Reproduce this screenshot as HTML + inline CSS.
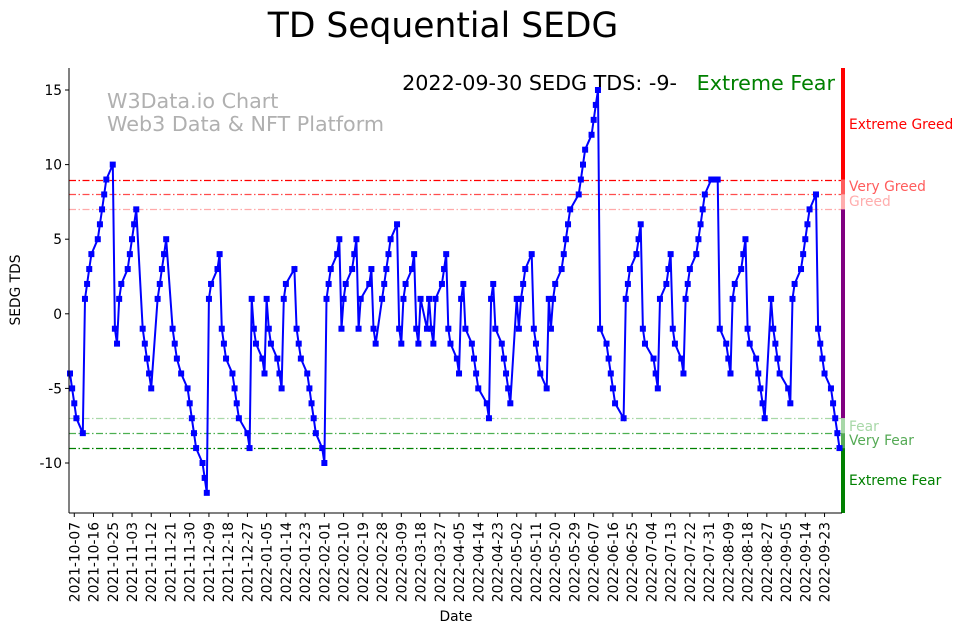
<!DOCTYPE html>
<html><head><meta charset="utf-8"><style>
html,body{margin:0;padding:0;background:#fff}
svg{display:block;font-family:"DejaVu Sans","Liberation Sans",sans-serif}
</style></head><body>
<svg id="chart" width="962" height="633" viewBox="0 0 962 633">
<text x="443" y="37" font-size="34.5" text-anchor="middle" fill="#000">TD Sequential SEDG</text>
<text x="107" y="108" font-size="20.7" fill="#b0b0b0">W3Data.io Chart</text>
<text x="107" y="131" font-size="20.7" fill="#b0b0b0">Web3 Data &amp; NFT Platform</text>
<text x="677" y="90" font-size="20.7" text-anchor="end" fill="#000">2022-09-30 SEDG TDS: -9-</text>
<text x="835" y="90" font-size="20.7" text-anchor="end" fill="#008000">Extreme Fear</text>
<g id="zones"></g>
<g id="plot"></g>
<g id="axes"></g>
<text transform="translate(20,290) rotate(-90)" font-size="13.8" text-anchor="middle">SEDG TDS</text>
<text x="456" y="621" font-size="13.8" text-anchor="middle">Date</text>
</svg>
<script>
const values = [-4,-5,-6,-7,-8,1,2,3,4,5,6,7,8,9,10,-1,-2,1,2,3,4,5,6,7,-1,-2,-3,-4,-5,1,2,3,4,5,-1,-2,-3,-4,-5,-6,-7,-8,-9,-10,
-11,-12,1,2,3,4,-1,-2,-3,-4,-5,-6,-7,-8,-9,1,-1,-2,-3,-4,1,-1,-2,-3,-4,-5,1,2,3,-1,-2,-3,-4,-5,-6,-7,-8,-9,-10,
1,2,3,4,5,-1,1,2,3,4,5,-1,1,2,3,-1,-2,1,2,3,4,5,6,-1,-2,1,2,3,4,-1,-2,1,-1,1,-1,-2,1,2,3,4,-1,-2,-3,-4,
1,2,-1,-2,-3,-4,-5,-6,-7,1,2,-1,-2,-3,-4,-5,-6,1,-1,1,2,3,4,-1,-2,-3,-4,-5,1,-1,1,2,3,4,5,6,7,8,9,10,11,12,13,
14,15,-1,-2,-3,-4,-5,-6,-7,1,2,3,4,5,6,-1,-2,-3,-4,-5,1,2,3,4,-1,-2,-3,-4,1,2,3,4,5,6,7,8,9,9,9,9,
-1,-2,-3,-4,1,2,3,4,5,-1,-2,-3,-4,-5,-6,-7,1,-1,-2,-3,-4,-5,-6,1,2,3,4,5,6,7,8,-1,-2,-3,-4,-5,-6,-7,-8,-9];
const yTicks = [15,10,5,0,-5,-10];
const lastDate = "2022-09-30";
const holidays = ["2021-11-25","2021-12-24","2022-01-17","2022-02-21","2022-04-15","2022-05-30","2022-06-20","2022-07-04","2022-09-05"];
const xTickLabels = ["2021-10-07","2021-10-16","2021-10-25","2021-11-03","2021-11-12","2021-11-21","2021-11-30","2021-12-09","2021-12-18","2021-12-27","2022-01-05","2022-01-14","2022-01-23","2022-02-01","2022-02-10","2022-02-19","2022-02-28","2022-03-09","2022-03-18","2022-03-27","2022-04-05","2022-04-14","2022-04-23","2022-05-02","2022-05-11","2022-05-20","2022-05-29","2022-06-07","2022-06-16","2022-06-25","2022-07-04","2022-07-13","2022-07-22","2022-07-31","2022-08-09","2022-08-18","2022-08-27","2022-09-05","2022-09-14","2022-09-23"];
const levels = [9,8,7,-7,-8,-9];
const levelNames = ["Extreme Greed","Very Greed","Greed","Fear","Very Fear","Extreme Fear"];

const NS="http://www.w3.org/2000/svg";
const DAY=86400000;
function toUTC(s){const p=s.split("-");return Date.UTC(+p[0],+p[1]-1,+p[2]);}
function fmt(t){return new Date(t).toISOString().slice(0,10);}
const dates=[];
let t=toUTC(lastDate);
while(dates.length<values.length){
  const d=new Date(t).getUTCDay();
  if(d!==0&&d!==6&&holidays.indexOf(fmt(t))<0) dates.unshift(t);
  t-=DAY;
}
const L=69,R=842,T=68,B=513;
const x0=dates[0],x1=dates[dates.length-1];
function xs(tt){return 70+(tt-x0)/(x1-x0)*(839.5-70);}
function ys(v){return 313.8-v*14.92;}
function mk(tag,attrs,parent){const e=document.createElementNS(NS,tag);for(const k in attrs)e.setAttribute(k,attrs[k]);parent.appendChild(e);return e;}

const zones=document.getElementById('zones');
const lineColors=["#ff0000","#ff4d4d","#ffaaaa","#a8d8a8","#4caf50","#008000"];
levels.forEach((lv,i)=>{
  const yy=Math.round(ys(lv))+0.5;
  const l=mk('line',{x1:L,x2:R,y1:yy,y2:yy,stroke:lineColors[i],'stroke-width':1.2,'stroke-dasharray':'7,2.5,1.5,2.5'},zones);
  
  
});
const segs=[[T,ys(9),"#ff0000"],[ys(9),ys(8),"#ff5c5c"],[ys(8),ys(7),"#ffadad"],[ys(7),ys(-7),"#800080"],[ys(-7),ys(-8),"#a8d8a8"],[ys(-8),ys(-9),"#55aa55"],[ys(-9),B,"#008000"]];
segs.forEach((s,i)=>{
  const r=mk('rect',{x:841,y:s[0],width:4,height:s[1]-s[0],fill:s[2]},zones);
  
  
});
const labelY=[129,191,206,431,445,485];
const labelCol=["#ff0000","#ff5c5c","#ffadad","#a8d8a8","#55aa55","#008000"];
levelNames.forEach((n,i)=>{
  const tx=mk('text',{x:849,y:labelY[i],'font-size':13.8,fill:labelCol[i]},zones);
  tx.textContent=n;
  
  
});

const plot=document.getElementById('plot');
const pts=values.map((v,i)=>xs(dates[i]).toFixed(1)+","+ys(v).toFixed(1)).join(" ");
const pl=mk('polyline',{points:pts,fill:'none',stroke:'#0000ff','stroke-width':2},plot);


values.forEach((v,i)=>{
  const r=mk('rect',{x:xs(dates[i])-3,y:ys(v)-3,width:6,height:6,fill:'#0000ff'},plot);
  
  
});

const axes=document.getElementById('axes');
const ya=mk('line',{x1:L,x2:L,y1:T,y2:B,stroke:'#000','stroke-width':1},axes);


const xa=mk('line',{x1:L,x2:R,y1:B,y2:B,stroke:'#000','stroke-width':1},axes);


yTicks.forEach(v=>{
  const y=ys(v);
  mk('line',{x1:L-4,x2:L,y1:y,y2:y,stroke:'#000'},axes);
  const tx=mk('text',{x:L-7,y:y+5,'font-size':13.8,'text-anchor':'end'},axes);
  tx.textContent=v;
  
  
});
xTickLabels.forEach(s=>{
  const x=xs(toUTC(s));
  mk('line',{x1:x,x2:x,y1:B,y2:B+4,stroke:'#000'},axes);
  const tx=mk('text',{transform:`translate(${x+5},${B+9}) rotate(-90)`,'font-size':13.8,'text-anchor':'end'},axes);
  tx.textContent=s;
  
  
});
</script>
</body></html>
